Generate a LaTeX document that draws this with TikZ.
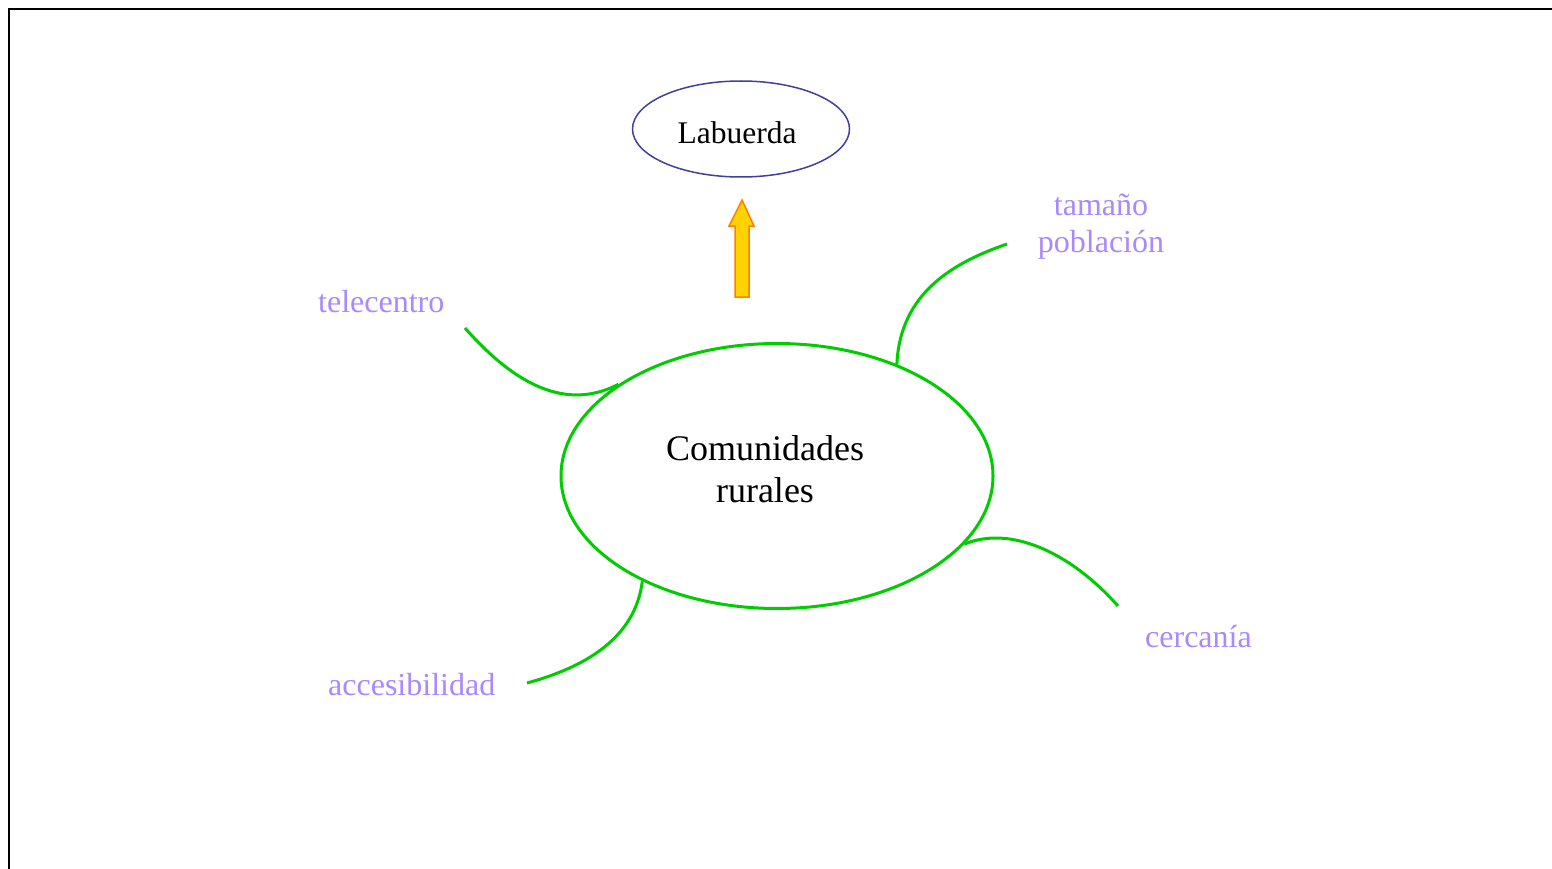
\documentclass[tikz,border=0pt]{standalone}
\usepackage{fontspec}
\setmainfont{Liberation Serif}
\usetikzlibrary{shapes.geometric}
\definecolor{branchgreen}{RGB}{0,204,0}
\definecolor{labelpurple}{RGB}{170,136,255}
\definecolor{ovalblue}{RGB}{64,64,160}
\definecolor{arrowfill}{RGB}{255,210,0}
\definecolor{arrowline}{RGB}{255,128,0}
\tikzset{
  branch/.style={draw=branchgreen, line width=3pt},
  leaf/.style={text=labelpurple, inner sep=0pt, font=\fontsize{32}{37}\selectfont},
}
\begin{document}
\begin{tikzpicture}[x=1pt,y=-1pt]
\useasboundingbox (0,0) rectangle (1552,869);
\fill[white] (0,0) rectangle (1552,869);
% frame
\draw[line width=2pt] (9,869) -- (9,9) -- (1552,9);
% Labuerda
\node[ellipse, draw=ovalblue, line width=1.5pt, minimum width=217pt, minimum height=96pt, inner sep=0pt] (lab) at (741,129) {};
\node[anchor=base, inner sep=0pt, font=\fontsize{31.5}{36}\selectfont] (labtext) at (737,144) {Labuerda};
% arrow
\draw[draw=arrowline, fill=arrowfill, line width=1.5pt, line join=miter]
  (735,297) -- (749,297) -- (749,226) -- (754,226) -- (742,200) -- (729,226) -- (735,226) -- cycle;
% main oval
\node[ellipse, draw=branchgreen, line width=3pt, minimum width=432pt, minimum height=265pt, inner sep=0pt] (com) at (777,476) {};
\node[anchor=base, inner sep=0pt, align=center, font=\fontsize{36}{42}\selectfont] (comtext) at (765,502) {Comunidades\\rurales};
% labels
\node[leaf, anchor=base west] (tele) at (318,312) {telecentro};
\node[leaf, anchor=base, align=center] (tam) at (1101,252) {tamaño\\población};
\node[leaf, anchor=base west] (cer) at (1145,647) {cercanía};
\node[leaf, anchor=base west] (acc) at (328,695) {accesibilidad};
% branch ends
\coordinate (teleend) at (465,328);
\coordinate (tamend) at (1007,244);
\coordinate (cerend) at (1118,606);
\coordinate (accend) at (527,683);
% branches
\draw[branch] (teleend) .. controls (530,402) and (580,404) .. (com.150);
\draw[branch] (com.43) .. controls (900,292) and (955,262) .. (tamend);
\draw[branch] (com.-20.5) .. controls (1010,525) and (1070,552) .. (cerend);
\draw[branch] (com.218) .. controls (635,640) and (582,668) .. (accend);
\end{tikzpicture}
\end{document}
